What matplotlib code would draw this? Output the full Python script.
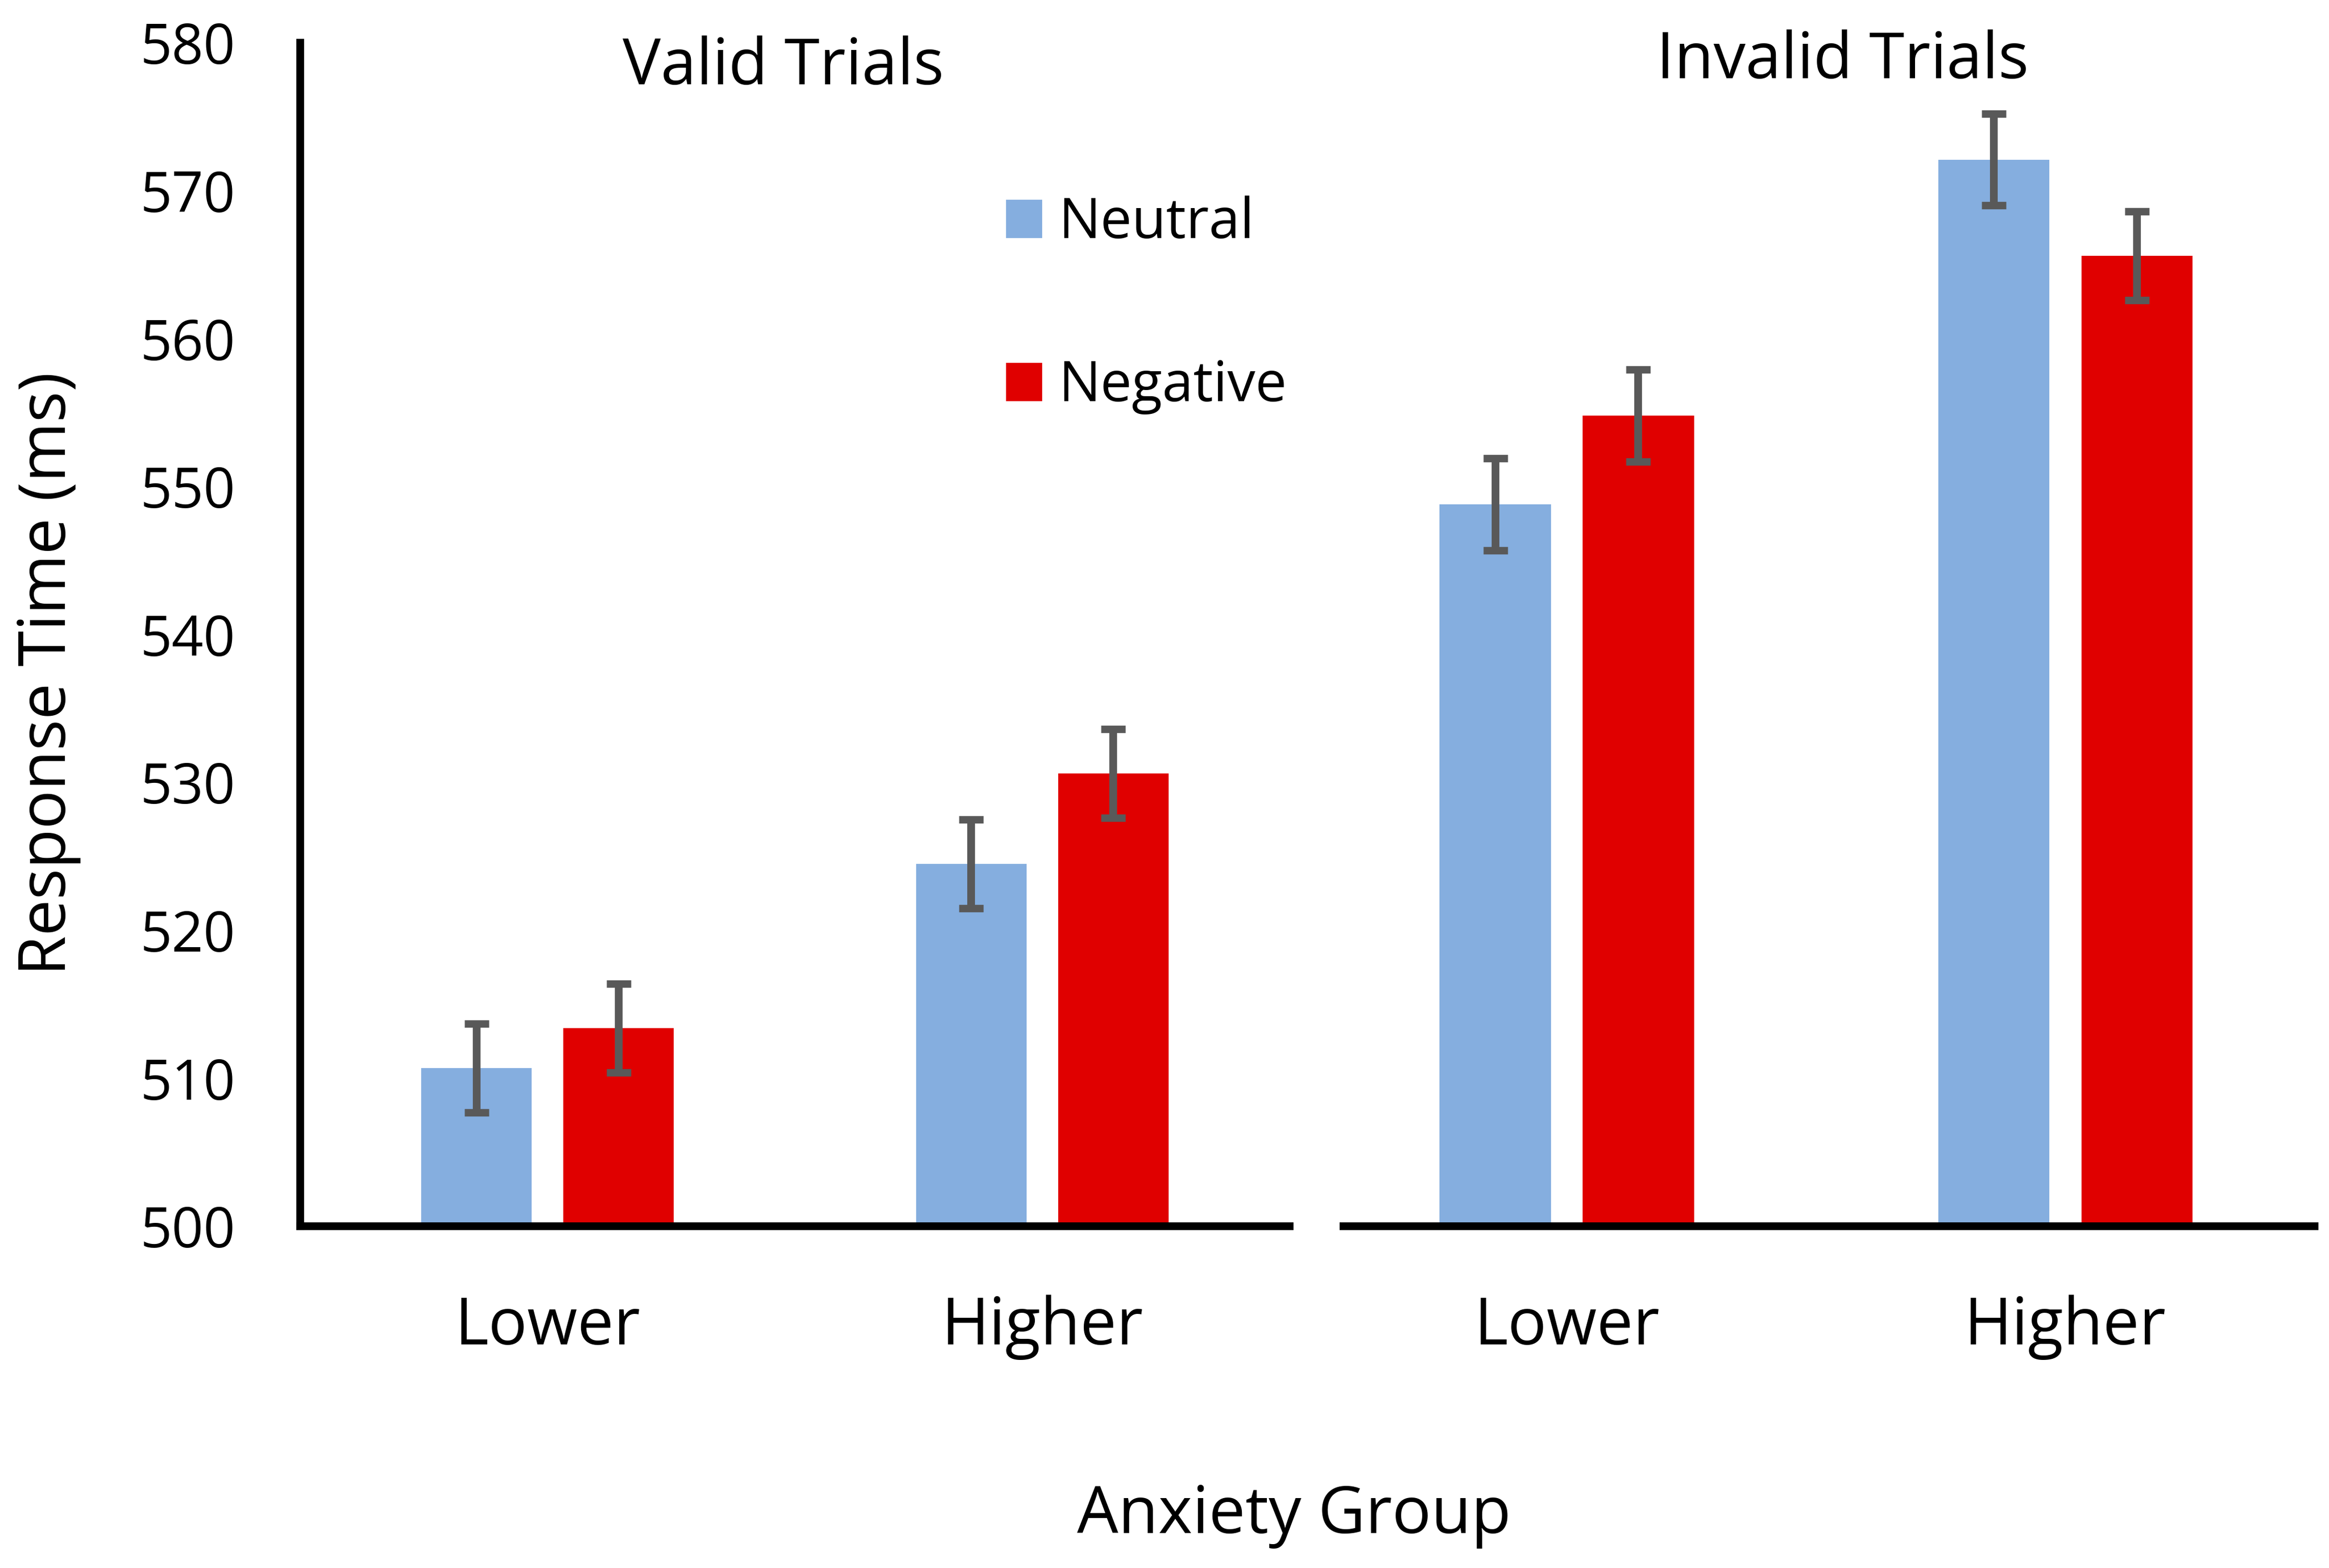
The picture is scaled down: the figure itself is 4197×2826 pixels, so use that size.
import matplotlib
matplotlib.use("Agg")
import matplotlib.pyplot as plt
from matplotlib.patches import Rectangle
import numpy as np

# ---- data ----
groups = ["Lower", "Higher"]
series = ["Neutral", "Negative"]
valid_neutral = [510.7, 524.5]
valid_negative = [513.4, 530.6]
invalid_neutral = [548.8, 572.1]
invalid_negative = [554.8, 565.6]
valid_neutral_err = [3.0, 3.0]
valid_negative_err = [3.0, 3.0]
invalid_neutral_err = [3.1, 3.1]
invalid_negative_err = [3.1, 3.0]
panel_titles = ["Valid Trials", "Invalid Trials"]
yticks = [500, 510, 520, 530, 540, 550, 560, 570, 580]

NEUTRAL = "#85AEDF"
NEGATIVE = "#E00000"
ERR = "#595959"

plt.rcParams['font.family'] = ['Open Sans', 'DejaVu Sans']

W, H = 4197, 2826
DPI = 100
fig = plt.figure(figsize=(W / DPI, H / DPI), dpi=DPI)
fig.patch.set_facecolor("white")

def fx(px):
    return px / W

def fy(py):
    return 1 - py / H

bottom = fy(2210)
height = (2210 - 77) / H
ax1 = fig.add_axes([fx(541), bottom, fx(1783), height])
ax2 = fig.add_axes([fx(2421), bottom, fx(1750), height])

width = 0.223
off = 0.1435
x = np.array([0.5, 1.5])
ekw = dict(ecolor=ERR, elinewidth=10, capsize=15.8, capthick=9.7)

for ax, neu, neg, neu_e, neg_e in [
    (ax1, valid_neutral, valid_negative, valid_neutral_err, valid_negative_err),
    (ax2, invalid_neutral, invalid_negative, invalid_neutral_err, invalid_negative_err),
]:
    ax.bar(x - off, neu, width, color=NEUTRAL, yerr=neu_e, error_kw=ekw, label=series[0])
    ax.bar(x + off, neg, width, color=NEGATIVE, yerr=neg_e, error_kw=ekw, label=series[1])
    ax.set_ylim(500, 580)
    ax.set_xticks(x)
    ax.set_xticklabels(groups, fontsize=84)
    ax.tick_params(axis='x', length=0, pad=89)
    for s in ['top', 'right']:
        ax.spines[s].set_visible(False)
    ax.spines['bottom'].set_linewidth(10)
    ax.spines['bottom'].set_color('black')
    ax.set_facecolor('none')

ax1.set_xlim(0, 2)
ax2.set_xlim(0.052, 2.0)

ax1.set_yticks(yticks)
ax1.set_yticklabels([str(v) for v in yticks], fontsize=72)
ax1.tick_params(axis='y', length=0, pad=84)
ax1.spines['left'].set_linewidth(10)
ax1.spines['left'].set_color('black')

ax2.spines['left'].set_visible(False)
ax2.set_yticks([])

# panel titles
fig.text(fx(1411), fy(152), panel_titles[0], fontsize=83, ha='center', va='baseline')
fig.text(fx(3320), fy(141), panel_titles[1], fontsize=83, ha='center', va='baseline')

# axis labels
fig.text(fx(2332), fy(2763), "Anxiety Group", fontsize=84.5, ha='center', va='baseline')
fig.text(fx(88), fy(1214), "Response Time (ms)", fontsize=84, ha='center', va='center',
         rotation=90)

# legend
for label, color, base in [(series[0], NEUTRAL, 429), (series[1], NEGATIVE, 723)]:
    fig.add_artist(Rectangle((fx(1813), fy(base)), fx(65), 69 / H,
                             transform=fig.transFigure, facecolor=color, edgecolor='none'))
    fig.text(fx(1907), fy(base), label, fontsize=72.5, ha='left', va='baseline')

fig.savefig("out.png", dpi=DPI, facecolor="white")
